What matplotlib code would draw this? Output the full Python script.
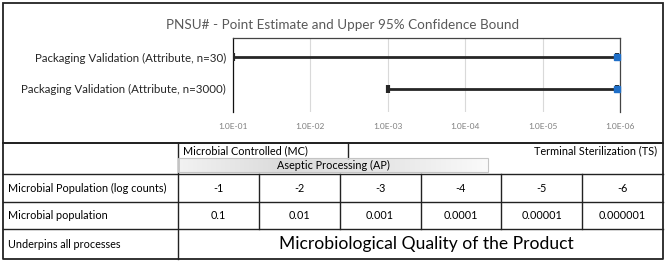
import numpy as np
import matplotlib
matplotlib.use("Agg")
import matplotlib.pyplot as plt
from matplotlib.patches import Rectangle
from matplotlib.colors import LinearSegmentedColormap

plt.rcParams['font.family'] = ['Lato', 'DejaVu Sans']

# chart data
categories = ["Packaging Validation (Attribute, n=30)",
              "Packaging Validation (Attribute, n=3000)"]
point_estimate = [1.1e-6, 1.1e-6]
upper_bound = [1.0e-1, 1.0e-3]
decades = [1e-1, 1e-2, 1e-3, 1e-4, 1e-5, 1e-6]
decade_labels = ["1.0E-01", "1.0E-02", "1.0E-03", "1.0E-04", "1.0E-05", "1.0E-06"]

# table data
log_counts = ["-1", "-2", "-3", "-4", "-5", "-6"]
population = ["0.1", "0.01", "0.001", "0.0001", "0.00001", "0.000001"]
row_labels = ["Microbial Population (log counts)", "Microbial population",
              "Underpins all processes"]
quality_text = "Microbiological Quality of the Product"

W, H = 669, 266
fig = plt.figure(figsize=(W / 100, H / 100), dpi=100)

# overlay in pixel coordinates for the boxes and table
bg = fig.add_axes([0, 0, 1, 1])
bg.axis("off")

# chart box
bg.add_patch(Rectangle((3, 3), 660, 140, fill=False, ec="#222222", lw=1.3))
bg.text(343, 25, "PNSU# - Point Estimate and Upper 95% Confidence Bound",
        fontsize=9.7, color="#595959", ha="center", va="center")

# --- chart ---
x0, x1, y0, y1 = 233, 620, 38, 112
ax = fig.add_axes([x0 / W, 1 - y1 / H, (x1 - x0) / W, (y1 - y0) / H])
ax.set_xscale("log")
ax.set_xlim(1e-1, 1e-6)
ax.set_ylim(1.75, -0.62)
ypos = np.arange(len(categories))
lo = np.array(point_estimate)
hi = np.array(upper_bound)
ax.errorbar(lo, ypos, xerr=[np.zeros_like(lo), hi - lo], fmt="none",
            ecolor="#262626", elinewidth=2, capsize=3, capthick=3, zorder=3)
ax.plot(lo, ypos, "s", color="#1f6fc8", ms=5, zorder=4, clip_on=False)
ax.set_xticks(decades)
ax.set_xticklabels(decade_labels)
ax.xaxis.set_minor_locator(matplotlib.ticker.NullLocator())
ax.tick_params(axis="x", length=0, labelsize=6, labelcolor="#7f7f7f", pad=8)
ax.set_yticks(ypos)
ax.set_yticklabels(categories)
ax.tick_params(axis="y", length=0, labelsize=8.3, labelcolor="#262626", pad=5)
ax.grid(axis="x", color="#d9d9d9", lw=0.8)
ax.set_axisbelow(True)
ax.spines["bottom"].set_visible(False)
ax.spines["left"].set_color("#111111")
ax.spines["top"].set_color("#444444")
ax.spines["right"].set_color("#444444")
for s in ax.spines.values():
    s.set_linewidth(0.9)

# --- table ---
line_kw = dict(color="#222222", lw=1.0)
row_y = [143, 174, 202, 229, 259]
col_x = [3, 178] + [178 + (663 - 178) * (i + 1) / 6 for i in range(6)]

bg.plot([3, 663, 663, 3, 3], [143, 143, 259, 259, 143], color="#222222", lw=1.3)
for y in row_y[1:-1]:
    bg.plot([3, 663], [y, y], **line_kw)
bg.plot([178, 178], [143, 259], **line_kw)
for x in col_x[2:-1]:
    bg.plot([x, x], [174, 229], **line_kw)

# header row
bg.plot([348, 348], [143, 158], **line_kw)
bg.text(183, 151, "Microbial Controlled (MC)", fontsize=7.8, va="center", ha="left")
bg.text(657, 151, "Terminal Sterilization (TS)", fontsize=7.8, va="center", ha="right")
grad = LinearSegmentedColormap.from_list("g", ["#f2f2f2", "#dcdcdc", "#e6e6e6", "#fafafa"])
bg.imshow(np.linspace(0, 1, 256)[None, :], cmap=grad, aspect="auto",
          extent=(178, 488, 172, 158), zorder=1)
bg.add_patch(Rectangle((178, 158), 310, 14, fill=False, ec="#c4c4c4", lw=0.8, zorder=2))
bg.text(333, 165.5, "Aseptic Processing (AP)", fontsize=7.8, va="center", ha="center", zorder=3)

# row labels and values
for i, lab in enumerate(row_labels):
    bg.text(8, (row_y[i + 1] + row_y[i + 2]) / 2, lab, fontsize=7.8, va="center", ha="left")
for j in range(6):
    cx = (col_x[j + 1] + col_x[j + 2]) / 2
    bg.text(cx, (row_y[1] + row_y[2]) / 2, log_counts[j], fontsize=7.8, va="center", ha="center")
    bg.text(cx, (row_y[2] + row_y[3]) / 2, population[j], fontsize=7.8, va="center", ha="center")
bg.text(426, (row_y[3] + row_y[4]) / 2, quality_text, fontsize=12.6,
        va="center", ha="center")

bg.set_xlim(0, W)
bg.set_ylim(H, 0)

fig.savefig("out.png", dpi=100)
